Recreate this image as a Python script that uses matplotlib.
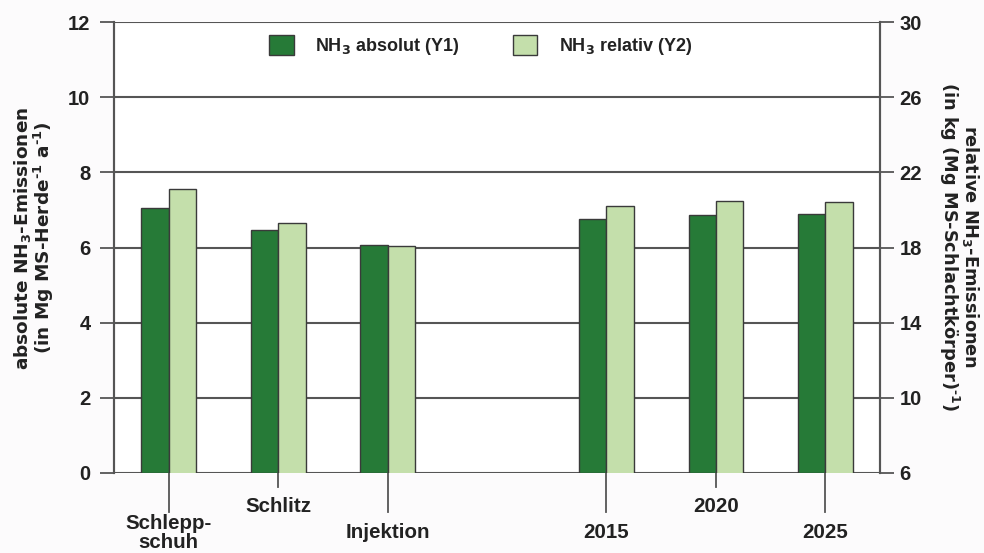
import matplotlib
matplotlib.use("Agg")
import matplotlib.pyplot as plt
from matplotlib.patches import Patch

plt.rcParams['font.family'] = ['Liberation Sans', 'DejaVu Sans']
plt.rcParams['font.weight'] = 'bold'
plt.rcParams['mathtext.fontset'] = 'custom'
plt.rcParams['mathtext.rm'] = 'DejaVu Sans:bold'
plt.rcParams['mathtext.default'] = 'rm'

# ---- data ----
categories = ["Schlepp-\nschuh", "Schlitz", "Injektion", "2015", "2020", "2025"]
positions = [0, 1, 2, 4, 5, 6]
absolut_y1 = [7.05, 6.46, 6.07, 6.77, 6.86, 6.88]
relativ_y2 = [21.1, 19.3, 18.1, 20.2, 20.45, 20.4]
left_ticks = [0, 2, 4, 6, 8, 10, 12]
right_ticks = [6, 10, 14, 18, 22, 26, 30]
label_low = [True, False, True, True, False, True]

dark = '#267a37'
light = '#c4dfab'
edge = '#3a3a3a'
axcol = '#555555'
txt = '#222222'

fig = plt.figure(figsize=(9.84, 5.53), dpi=100, facecolor='#fcfbfc')
ax = fig.add_axes([114/984, 1-473/553, (880-114)/984, (473-22)/553])
ax.set_facecolor('white')
ax.set_xlim(-0.5, 6.5)
ax.set_ylim(0, 12)
ax.set_yticks(left_ticks)
ax.set_yticklabels([str(t) for t in left_ticks], fontsize=14.5, fontweight='bold')
for y in left_ticks:
    ax.axhline(y, color=axcol, lw=1.5, zorder=1)

ax.bar(positions, absolut_y1, width=-0.25, align='edge', color=dark,
       edgecolor=edge, linewidth=1.0, zorder=3)

ax2 = ax.twinx()
ax2.set_ylim(6, 30)
ax2.set_yticks(right_ticks)
ax2.set_yticklabels([str(t) for t in right_ticks], fontsize=14.5, fontweight='bold')
ax2.bar(positions, relativ_y2, bottom=0, width=0.25, align='edge', color=light,
        edgecolor=edge, linewidth=1.0, zorder=3)

for a in (ax, ax2):
    for s in a.spines.values():
        s.set_color(axcol)
        s.set_linewidth(1.5)
    a.spines['top'].set_visible(False)
    a.spines['bottom'].set_visible(False)
ax.tick_params(axis='y', length=10, width=1.3, color=axcol, pad=7)
ax2.tick_params(axis='y', length=10, width=1.3, color=axcol, pad=4)

# x ticks drawn as long/short lines
ax.set_xticks([])
trans = ax.get_xaxis_transform()
for p, lab, low in zip(positions, categories, label_low):
    end = -39/451 if low else -14/451
    ax.plot([p, p], [0, end], transform=trans, color=axcol, lw=1.3,
            clip_on=False, zorder=2)
    ypos = -60/451 if low else -33/451
    ax.text(p, ypos, lab, transform=trans, ha='center', va='center',
            fontsize=14.8, fontweight='bold', linespacing=1.0, color=txt)

# axis labels
fig.text(34/984, 1-238/553,
         'absolute NH$_3$-Emissionen\n(in Mg MS-Herde$^{\\text{-1}}$ a$^{\\text{-1}}$)',
         rotation=90, ha='center', va='center', fontsize=13.3, fontweight='bold',
         family='DejaVu Sans', linespacing=0.95, color=txt)
fig.text(959/984, 1-247/553,
         'relative NH$_3$-Emissionen\n(in kg (Mg MS-Schlachtkörper)$^{\\text{-1}}$)',
         rotation=270, ha='center', va='center', fontsize=12.8, fontweight='bold',
         family='DejaVu Sans', linespacing=0.95, color=txt)

handles = [Patch(facecolor=dark, edgecolor=edge, linewidth=1.0),
           Patch(facecolor=light, edgecolor=edge, linewidth=1.0)]
leg = ax2.legend(handles, ['NH$_3$ absolut (Y1)', 'NH$_3$ relativ (Y2)'],
                 ncol=2, frameon=False, loc='center',
                 bbox_to_anchor=(481/984, 1-46/553), bbox_transform=fig.transFigure,
                 fontsize=13, handlelength=1.35, handleheight=1.35,
                 handletextpad=1.2, columnspacing=2.95)
for t in leg.get_texts():
    t.set_color(txt)

for lab in ax.get_yticklabels() + ax2.get_yticklabels():
    lab.set_color(txt)

fig.savefig('out.png', dpi=100, facecolor=fig.get_facecolor())
